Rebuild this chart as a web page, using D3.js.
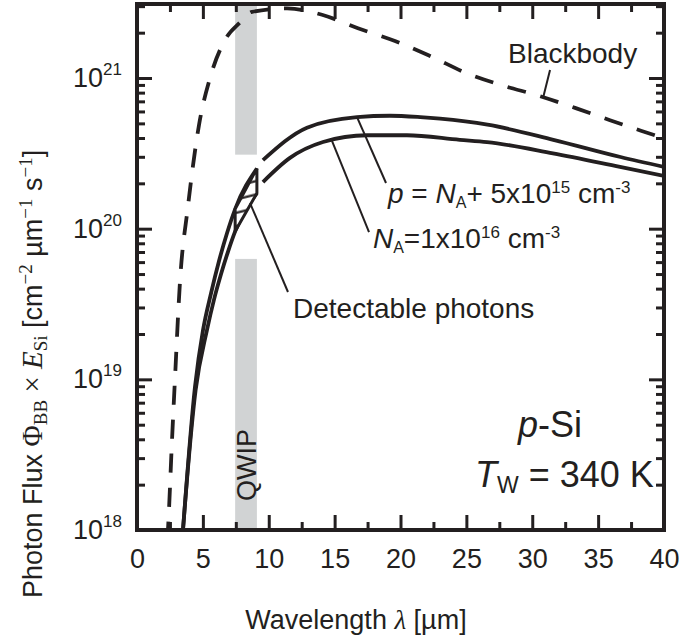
<!DOCTYPE html>
<html>
<head>
<meta charset="utf-8">
<script src="https://cdn.jsdelivr.net/npm/d3@7"></script>
<style>
  html, body { margin: 0; padding: 0; background: #ffffff; }
  svg { display: block; font-family: "Liberation Sans", Arial, Helvetica, sans-serif; }
</style>
</head>
<body>
<svg id="chart" width="679" height="642"></svg>
<script>
// Blackbody photon flux (dashed curve): wavelength in µm, flux in cm^-2 µm^-1 s^-1
const bbLambda = [2.30, 2.35, 2.66, 2.88, 3.26, 3.87, 4.71, 5.54, 6.6, 7.82, 8.73, 11.39, 14.04,
                  16.77, 19.58, 22.24, 25.1, 27.93, 30.36, 33.3, 35.9, 38.25, 40];
const bbFlux   = [8.5e17, 1.0e18, 4.0e18, 1.0e19, 4.4e19, 1.41e20, 4.9e20, 1.0e21, 1.74e21, 2.34e21,
                  2.75e21, 2.9e21, 2.63e21, 2.14e21, 1.76e21, 1.40e21, 1.07e21, 8.83e20, 7.69e20,
                  6.31e20, 5.25e20, 4.47e20, 3.98e20];

// Flux weighted by Si emissivity, p = N_A + 5x10^15 cm^-3
const pLambda = [3.45, 3.49, 4.40, 5.01, 5.62, 6.22, 6.83, 7.45, 9.1, 9.56, 12.9, 16.7, 19.2, 21.5,
                 23.0, 26.6, 31.6, 36.7, 40];
const pFlux   = [9.0e17, 1.0e18, 8.9e18, 2.12e19, 3.73e19, 6.08e19, 9.33e19, 1.35e20, 2.51e20,
                 2.85e20, 4.68e20, 5.5e20, 5.62e20, 5.5e20, 5.37e20, 4.9e20, 3.89e20, 2.99e20, 2.57e20];

// Flux weighted by Si emissivity, N_A = 1x10^16 cm^-3
const naLambda = [3.45, 3.49, 4.45, 5.31, 5.84, 6.38, 6.91, 7.45, 9.1, 9.56, 11.61, 14.12, 17.46,
                  20.49, 24.5, 26.57, 31.57, 36.66, 40];
const naFlux   = [9.0e17, 1.0e18, 8.5e18, 2.12e19, 3.37e19, 5.0e19, 7.05e19, 9.6e19, 1.72e20, 2.04e20,
                  2.95e20, 3.76e20, 4.17e20, 4.17e20, 3.89e20, 3.76e20, 3.16e20, 2.57e20, 2.24e20];

// QWIP detection window (µm) and the flux range left open around the curves
const qwipRange = [7.45, 9.1];
const qwipGap = [6.3e19, 3.1e20];
const curveBreak = [9.1, 9.5];

// Axis ticks and labels
const xMajorTicks = [0, 5, 10, 15, 20, 25, 30, 35, 40];
const xMinorTicks = [2.5, 7.5, 12.5, 17.5, 22.5, 27.5, 32.5, 37.5];
const yMajorTicks = [1e18, 1e19, 1e20, 1e21];
const yTickExponents = ["18", "19", "20", "21"];

const ink = "#231f20";
const grey = "#d1d3d4";
const sans = "'Liberation Sans', Arial, Helvetica, sans-serif";
const serif = "'Liberation Serif', 'DejaVu Serif', 'Times New Roman', serif";

const svg = d3.select("#chart");
const x = d3.scaleLinear().domain([0, 40]).range([137, 664]);
const y = d3.scaleLog().domain([1e18, 3.1e21]).range([530, 4]);
const [x0, x1] = x.range();
const [yB, yT] = y.range();

const yMinorTicks = [];
for (let e = 18; e <= 21; e++) {
  for (let k = 2; k <= 9; k++) {
    const v = k * Math.pow(10, e);
    if (v <= y.domain()[1]) yMinorTicks.push(v);
  }
}

const defs = svg.append("defs");
defs.append("clipPath").attr("id", "plot-clip")
  .append("rect").attr("x", x0).attr("y", yT).attr("width", x1 - x0).attr("height", yB - yT);

// hatch used for the detectable-photon patch
const hatch = defs.append("pattern").attr("id", "hatch")
  .attr("patternUnits", "userSpaceOnUse")
  .attr("width", 40).attr("height", 13)
  .attr("patternTransform", "rotate(-14)");
hatch.append("rect").attr("width", 40).attr("height", 13).attr("fill", "#ffffff");
hatch.append("line").attr("x1", 0).attr("x2", 40).attr("y1", 3.6).attr("y2", 3.6)
  .attr("stroke", ink).attr("stroke-width", 2.2);

const plot = svg.append("g").attr("clip-path", "url(#plot-clip)");

// QWIP band, interrupted where the curves pass
plot.append("rect")
  .attr("x", x(qwipRange[0])).attr("width", x(qwipRange[1]) - x(qwipRange[0]))
  .attr("y", yT).attr("height", y(qwipGap[1]) - yT)
  .attr("fill", grey);
plot.append("rect")
  .attr("x", x(qwipRange[0])).attr("width", x(qwipRange[1]) - x(qwipRange[0]))
  .attr("y", y(qwipGap[0])).attr("height", yB - y(qwipGap[0]))
  .attr("fill", grey);

svg.append("text")
  .attr("transform", `translate(${(x(qwipRange[0]) + x(qwipRange[1])) / 2 + 9.5},${y(2.7e18)}) rotate(-90)`)
  .attr("text-anchor", "middle")
  .attr("font-size", 27)
  .attr("fill", ink)
  .text("QWIP");

const line = d3.line()
  .x(d => x(d[0]))
  .y(d => y(d[1]))
  .curve(d3.curveMonotoneX);

const pPts = d3.zip(pLambda, pFlux);
const naPts = d3.zip(naLambda, naFlux);
const bbPts = d3.zip(bbLambda, bbFlux);

// solid curves, each drawn in two pieces broken just past the band
[pPts, naPts].forEach(pts => {
  const left = pts.filter(d => d[0] <= curveBreak[0]);
  const right = pts.filter(d => d[0] >= curveBreak[1]);
  [left, right].forEach(seg => {
    plot.append("path")
      .attr("d", line(seg))
      .attr("fill", "none")
      .attr("stroke", ink)
      .attr("stroke-width", 3.8);
  });
});

// detectable photons: area between the two curves inside the QWIP window
const inBand = d => d[0] >= qwipRange[0] && d[0] <= qwipRange[1];
const patch = pPts.filter(inBand).concat(naPts.filter(inBand).reverse());
plot.append("path")
  .attr("d", d3.line().x(d => x(d[0])).y(d => y(d[1]))(patch) + "Z")
  .attr("fill", "url(#hatch)")
  .attr("stroke", ink)
  .attr("stroke-width", 3)
  .attr("stroke-linejoin", "miter");

// blackbody
plot.append("path")
  .attr("d", line(bbPts))
  .attr("fill", "none")
  .attr("stroke", ink)
  .attr("stroke-width", 3.8)
  .attr("stroke-dasharray", "19,15");

// leader lines
const leaders = [
  [[31.35, 1.13e21], [30.82, 7.36e20]],
  [[16.70, 5.5e20], [18.90, 2.01e20]],
  [[14.80, 3.82e20], [17.61, 9.5e19]],
  [[8.58, 1.48e20], [11.46, 3.8e19]]
];
leaders.forEach(([a, b]) => {
  svg.append("line")
    .attr("x1", x(a[0])).attr("y1", y(a[1]))
    .attr("x2", x(b[0])).attr("y2", y(b[1]))
    .attr("stroke", ink).attr("stroke-width", 2);
});

function rich(sel, parts) {
  let cur = 0;
  parts.forEach(p => {
    const s = p.shift || 0;
    const ts = sel.append("tspan").attr("dy", s - cur).text(p.text);
    cur = s;
    if (p.size) ts.attr("font-size", p.size);
    if (p.italic) ts.attr("font-style", "italic");
    if (p.serif) ts.attr("font-family", serif);
  });
}

function label(lambda, flux, size, parts) {
  const t = svg.append("text")
    .attr("x", x(lambda)).attr("y", y(flux))
    .attr("font-size", size).attr("fill", ink);
  rich(t, parts);
  return t;
}

label(28.16, 1.257e21, 28, [{ text: "Blackbody" }]);

label(19.05, 1.48e20, 28, [
  { text: "p", italic: true },
  { text: " = " },
  { text: "N", italic: true },
  { text: "A", size: 16, shift: 5 },
  { text: "+ 5x10" },
  { text: "15", size: 17, shift: -10 },
  { text: " cm" },
  { text: "-3", size: 17, shift: -10 }
]);

label(17.91, 7.45e19, 28, [
  { text: "N", italic: true },
  { text: "A", size: 16, shift: 5 },
  { text: "=1x10" },
  { text: "16", size: 17, shift: -10 },
  { text: " cm" },
  { text: "-3", size: 17, shift: -10 }
]);

label(11.84, 2.55e19, 28, [{ text: "Detectable photons" }]);

label(28.92, 4.14e18, 36, [
  { text: "p", italic: true },
  { text: "-Si" }
]);

label(25.65, 1.93e18, 36, [
  { text: "T", italic: true },
  { text: "W", size: 23, shift: 6 },
  { text: " = 340 K" }
]);

// axes
function finishAxis(g) {
  g.select(".domain").remove();
  g.selectAll(".tick line").attr("stroke", ink).attr("stroke-width", 3);
  g.selectAll(".tick text").attr("fill", ink).attr("font-size", 27).attr("font-family", sans);
}

svg.append("g").attr("transform", `translate(0,${yB})`)
  .call(d3.axisBottom(x).tickValues(xMajorTicks).tickSize(-15).tickPadding(19).tickFormat(d3.format("d")))
  .call(finishAxis);
svg.append("g").attr("transform", `translate(0,${yB})`)
  .call(d3.axisBottom(x).tickValues(xMinorTicks).tickSize(-8).tickFormat(""))
  .call(finishAxis);
svg.append("g").attr("transform", `translate(0,${yT})`)
  .call(d3.axisTop(x).tickValues(xMajorTicks).tickSize(-15).tickFormat(""))
  .call(finishAxis);
svg.append("g").attr("transform", `translate(0,${yT})`)
  .call(d3.axisTop(x).tickValues(xMinorTicks).tickSize(-8).tickFormat(""))
  .call(finishAxis);

const yAxis = svg.append("g").attr("transform", `translate(${x0},0)`)
  .call(d3.axisLeft(y).tickValues(yMajorTicks).tickSize(-15).tickPadding(15).tickFormat(() => ""))
  .call(finishAxis);
yAxis.selectAll(".tick text").each(function (d, i) {
  const t = d3.select(this);
  t.append("tspan").text("10");
  t.append("tspan").attr("dy", -12).attr("font-size", 17).text(yTickExponents[i]);
});
svg.append("g").attr("transform", `translate(${x0},0)`)
  .call(d3.axisLeft(y).tickValues(yMinorTicks).tickSize(-8).tickFormat(() => ""))
  .call(finishAxis);
svg.append("g").attr("transform", `translate(${x1},0)`)
  .call(d3.axisRight(y).tickValues(yMajorTicks).tickSize(-15).tickFormat(() => ""))
  .call(finishAxis);
svg.append("g").attr("transform", `translate(${x1},0)`)
  .call(d3.axisRight(y).tickValues(yMinorTicks).tickSize(-8).tickFormat(() => ""))
  .call(finishAxis);

// frame
svg.append("rect")
  .attr("x", x0).attr("y", yT).attr("width", x1 - x0).attr("height", yB - yT)
  .attr("fill", "none").attr("stroke", ink).attr("stroke-width", 4);

// axis titles
const xTitle = svg.append("text")
  .attr("x", 356).attr("y", 629)
  .attr("text-anchor", "middle").attr("font-size", 27).attr("fill", ink);
rich(xTitle, [
  { text: "Wavelength " },
  { text: "λ", italic: true, serif: true },
  { text: " [µm]" }
]);

const yTitle = svg.append("text")
  .attr("transform", "translate(42,598) rotate(-90)")
  .attr("font-size", 27).attr("fill", ink);
rich(yTitle, [
  { text: "Photon Flux " },
  { text: "Φ", serif: true, size: 29 },
  { text: "BB", serif: true, size: 19, shift: 5 },
  { text: " × ", serif: true, size: 29 },
  { text: "E", serif: true, italic: true, size: 29 },
  { text: "Si", serif: true, size: 19, shift: 5 },
  { text: " [cm" },
  { text: "−2", serif: true, size: 19, shift: -10 },
  { text: " µm" },
  { text: "−1", serif: true, size: 19, shift: -10 },
  { text: " s" },
  { text: "−1", serif: true, size: 19, shift: -10 },
  { text: "]" }
]);
</script>
</body>
</html>
